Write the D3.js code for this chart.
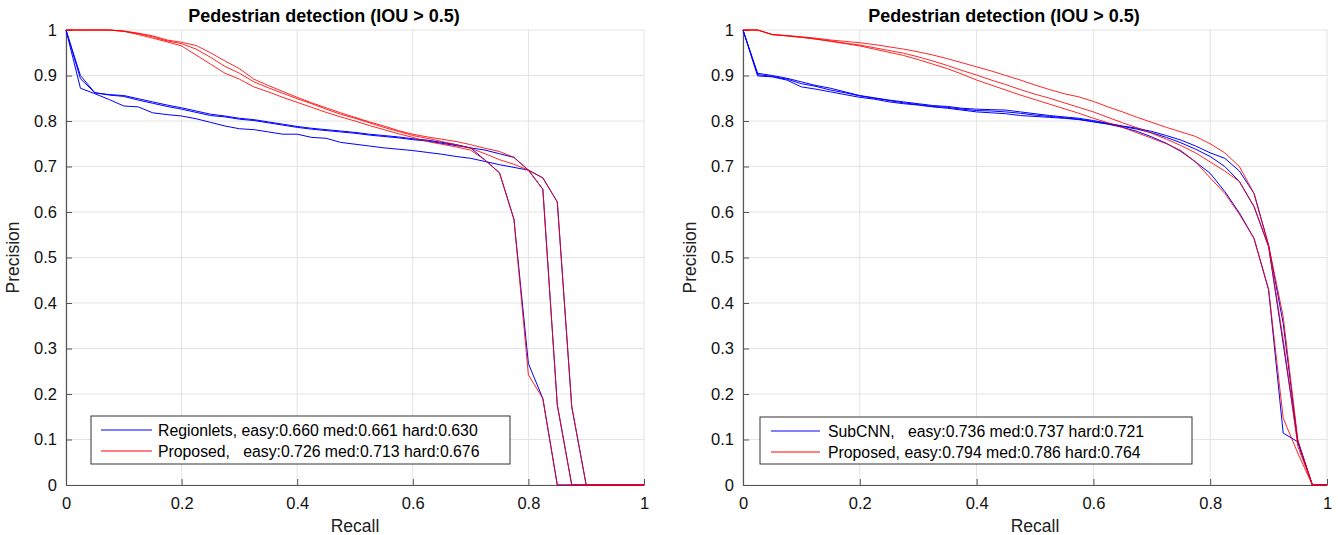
<!DOCTYPE html>
<html>
  <head>
    <meta charset="utf-8">
    <title>Pedestrian detection PR curves</title>
    <script type="text/javascript" src="https://d3js.org/d3.v7.min.js"></script>
    <style>
      body { margin: 0; background: #fff; }
      svg text { font-family: "Liberation Sans", Arial, sans-serif; }
    </style>
  </head>
  <body>
    <svg id="chart" width="1338" height="535"></svg>
    <script type="text/javascript">
      // KITTI style 41 point recall grid
      var recall = [0, 0.025, 0.05, 0.075, 0.1, 0.125, 0.15, 0.175, 0.2, 0.225,
        0.25, 0.275, 0.3, 0.325, 0.35, 0.375, 0.4, 0.425, 0.45, 0.475,
        0.5, 0.525, 0.55, 0.575, 0.6, 0.625, 0.65, 0.675, 0.7, 0.725,
        0.75, 0.775, 0.8, 0.825, 0.85, 0.875, 0.9, 0.925, 0.95, 0.975, 1];

      var xTicks = [0, 0.2, 0.4, 0.6, 0.8, 1];
      var yTicks = [0, 0.1, 0.2, 0.3, 0.4, 0.5, 0.6, 0.7, 0.8, 0.9, 1];

      // left panel: Regionlets vs Proposed
      var regionletsEasy = [1, 0.90, 0.862, 0.858, 0.856, 0.849, 0.842, 0.835, 0.829, 0.822,
        0.815, 0.811, 0.806, 0.803, 0.798, 0.793, 0.788, 0.784, 0.781, 0.778,
        0.775, 0.771, 0.768, 0.765, 0.761, 0.758, 0.753, 0.748, 0.741, 0.714,
        0.686, 0.584, 0.267, 0.19, 0, 0, 0, 0, 0, 0, 0];
      var regionletsMed = [1, 0.893, 0.862, 0.857, 0.854, 0.846, 0.839, 0.832, 0.826, 0.819,
        0.812, 0.809, 0.804, 0.801, 0.796, 0.791, 0.786, 0.782, 0.779, 0.776,
        0.773, 0.769, 0.766, 0.763, 0.759, 0.756, 0.751, 0.746, 0.741, 0.736,
        0.728, 0.72, 0.692, 0.65, 0.176, 0, 0, 0, 0, 0, 0];
      var regionletsHard = [1, 0.872, 0.86, 0.847, 0.833, 0.831, 0.818, 0.814, 0.811, 0.805,
        0.797, 0.789, 0.783, 0.781, 0.776, 0.771, 0.771, 0.764, 0.762, 0.753,
        0.749, 0.745, 0.741, 0.738, 0.735, 0.731, 0.727, 0.722, 0.718, 0.711,
        0.704, 0.698, 0.692, 0.675, 0.622, 0.172, 0, 0, 0, 0, 0];
      var proposedLeftEasy = [1, 1, 1, 1, 0.998, 0.993, 0.987, 0.978, 0.973, 0.966,
        0.95, 0.932, 0.915, 0.892, 0.878, 0.865, 0.852, 0.84, 0.829, 0.818,
        0.808, 0.798, 0.789, 0.779, 0.771, 0.765, 0.76, 0.755, 0.748, 0.74,
        0.733, 0.72, 0.692, 0.675, 0.622, 0.172, 0, 0, 0, 0, 0];
      var proposedLeftMed = [1, 1, 1, 1, 0.997, 0.992, 0.985, 0.976, 0.97, 0.958,
        0.94, 0.92, 0.905, 0.886, 0.873, 0.861, 0.849, 0.838, 0.826, 0.815,
        0.806, 0.796, 0.786, 0.777, 0.768, 0.762, 0.755, 0.748, 0.74, 0.728,
        0.715, 0.705, 0.692, 0.65, 0.176, 0, 0, 0, 0, 0, 0];
      var proposedLeftHard = [1, 1, 1, 1, 0.997, 0.99, 0.982, 0.974, 0.965, 0.945,
        0.925, 0.905, 0.892, 0.875, 0.864, 0.852, 0.841, 0.83, 0.819, 0.809,
        0.8, 0.79, 0.781, 0.772, 0.764, 0.755, 0.749, 0.743, 0.736, 0.714,
        0.686, 0.584, 0.242, 0.19, 0, 0, 0, 0, 0, 0, 0];

      // right panel: SubCNN vs Proposed
      var subcnnEasy = [1, 0.905, 0.9, 0.894, 0.886, 0.878, 0.872, 0.864, 0.856, 0.851,
        0.846, 0.842, 0.838, 0.834, 0.832, 0.828, 0.826, 0.825, 0.824, 0.82,
        0.816, 0.812, 0.809, 0.806, 0.801, 0.795, 0.789, 0.784, 0.777, 0.768,
        0.758, 0.745, 0.73, 0.718, 0.69, 0.641, 0.527, 0.355, 0.095, 0, 0];
      var subcnnMed = [1, 0.902, 0.898, 0.892, 0.882, 0.876, 0.868, 0.862, 0.855, 0.85,
        0.845, 0.84, 0.836, 0.832, 0.83, 0.826, 0.823, 0.822, 0.82, 0.817,
        0.813, 0.81, 0.807, 0.804, 0.799, 0.794, 0.788, 0.782, 0.774, 0.764,
        0.752, 0.738, 0.722, 0.7, 0.667, 0.612, 0.524, 0.31, 0.095, 0, 0];
      var subcnnHard = [1, 0.899, 0.897, 0.89, 0.875, 0.87, 0.864, 0.858, 0.852, 0.848,
        0.842, 0.838, 0.835, 0.831, 0.828, 0.824, 0.82, 0.818, 0.816, 0.812,
        0.81, 0.808, 0.806, 0.803, 0.798, 0.793, 0.786, 0.777, 0.765, 0.751,
        0.733, 0.71, 0.685, 0.645, 0.598, 0.542, 0.429, 0.114, 0.095, 0, 0];
      var proposedRightEasy = [1, 1, 0.99, 0.988, 0.985, 0.982, 0.978, 0.975, 0.972, 0.968,
        0.963, 0.958, 0.952, 0.945, 0.937, 0.928, 0.919, 0.91, 0.9, 0.89,
        0.879, 0.869, 0.86, 0.853, 0.843, 0.831, 0.82, 0.808, 0.797, 0.786,
        0.776, 0.766, 0.75, 0.73, 0.7, 0.641, 0.527, 0.37, 0.1, 0, 0];
      var proposedRightMed = [1, 1, 0.99, 0.987, 0.984, 0.98, 0.976, 0.971, 0.967, 0.961,
        0.955, 0.949, 0.941, 0.932, 0.922, 0.911, 0.901, 0.89, 0.88, 0.869,
        0.859, 0.85, 0.84, 0.83, 0.82, 0.808, 0.796, 0.785, 0.773, 0.76,
        0.746, 0.73, 0.71, 0.69, 0.667, 0.612, 0.524, 0.32, 0.085, 0, 0];
      var proposedRightHard = [1, 1, 0.99, 0.987, 0.984, 0.98, 0.975, 0.97, 0.965, 0.958,
        0.951, 0.944, 0.935, 0.925, 0.915, 0.903, 0.89, 0.879, 0.868, 0.857,
        0.847, 0.837, 0.827, 0.817, 0.806, 0.796, 0.786, 0.774, 0.762, 0.75,
        0.735, 0.71, 0.675, 0.641, 0.595, 0.542, 0.43, 0.147, 0.07, 0, 0];

      var panels = [
        {
          left: 66, right: 644, top: 30, bottom: 485,
          title: "Pedestrian detection (IOU > 0.5)",
          blue: [regionletsEasy, regionletsMed, regionletsHard],
          red: [proposedLeftEasy, proposedLeftMed, proposedLeftHard],
          legend: { x: 91, y: 416, w: 419, h: 48, lineX: 101, lineW: 51, textX: 158,
            labels: ["Regionlets, easy:0.660 med:0.661 hard:0.630",
                     "Proposed,   easy:0.726 med:0.713 hard:0.676"] }
        },
        {
          left: 743, right: 1327, top: 30, bottom: 485,
          title: "Pedestrian detection (IOU > 0.5)",
          blue: [subcnnEasy, subcnnMed, subcnnHard],
          red: [proposedRightEasy, proposedRightMed, proposedRightHard],
          legend: { x: 760, y: 417, w: 432, h: 47, lineX: 771, lineW: 49, textX: 828,
            labels: ["SubCNN,   easy:0.736 med:0.737 hard:0.721",
                     "Proposed, easy:0.794 med:0.786 hard:0.764"] }
        }
      ];

      var svg = d3.select("#chart");

      panels.forEach(function (p) {
        var x = d3.scaleLinear().domain([0, 1]).range([p.left, p.right]);
        var y = d3.scaleLinear().domain([0, 1]).range([p.bottom, p.top]);
        var g = svg.append("g");

        // grid
        g.append("g").selectAll("line").data(xTicks).enter().append("line")
          .attr("x1", function (d) { return x(d); }).attr("x2", function (d) { return x(d); })
          .attr("y1", p.top).attr("y2", p.bottom)
          .attr("stroke", "#e3e3e3").attr("stroke-width", 1);
        g.append("g").selectAll("line").data(yTicks).enter().append("line")
          .attr("y1", function (d) { return y(d); }).attr("y2", function (d) { return y(d); })
          .attr("x1", p.left).attr("x2", p.right)
          .attr("stroke", "#e3e3e3").attr("stroke-width", 1);

        // axes, ticks inside like matlab
        var xAxis = g.append("g").attr("transform", "translate(0," + p.bottom + ")")
          .call(d3.axisBottom(x).tickValues(xTicks).tickSizeInner(-6).tickSizeOuter(0)
            .tickFormat(function (d) { return d3.format("")(d); }));
        var yAxis = g.append("g").attr("transform", "translate(" + p.left + ",0)")
          .call(d3.axisLeft(y).tickValues(yTicks).tickSizeInner(-6).tickSizeOuter(0)
            .tickFormat(function (d) { return d3.format("")(d); }));
        [xAxis, yAxis].forEach(function (a) {
          a.select(".domain").attr("stroke", "#555").attr("stroke-width", 1.2);
          a.selectAll(".tick line").attr("stroke", "#555");
          a.selectAll(".tick text").attr("fill", "#111").style("font-size", "16.5px")
            .style("font-family", "Liberation Sans, Arial, sans-serif");
        });
        yAxis.selectAll(".tick text").attr("x", -9);
        xAxis.selectAll(".tick text").attr("y", 12);

        var line = d3.line()
          .x(function (d, i) { return x(recall[i]); })
          .y(function (d) { return y(d); });

        p.blue.forEach(function (s) {
          g.append("path").datum(s).attr("d", line)
            .attr("fill", "none").attr("stroke", "#0000ff").attr("stroke-width", 1);
        });
        p.red.forEach(function (s) {
          g.append("path").datum(s).attr("d", line)
            .attr("fill", "none").attr("stroke", "#ff0000").attr("stroke-width", 1)
            .attr("stroke-opacity", 0.85);
        });

        // titles and labels
        var cx = (p.left + p.right) / 2;
        g.append("text").attr("x", cx - 31).attr("y", 22).attr("text-anchor", "middle")
          .style("font-size", "18px").style("font-weight", "bold").attr("fill", "#000")
          .text(p.title);
        g.append("text").attr("x", cx).attr("y", 532).attr("text-anchor", "middle")
          .style("font-size", "17.5px").attr("fill", "#222").text("Recall");
        g.append("text")
          .attr("transform", "translate(" + (p.left - 47) + "," + ((p.top + p.bottom) / 2) + ") rotate(-90)")
          .attr("text-anchor", "middle").style("font-size", "17.5px").attr("fill", "#222")
          .text("Precision");

        // legend
        var L = p.legend;
        var lg = g.append("g");
        lg.append("rect").attr("x", L.x).attr("y", L.y).attr("width", L.w).attr("height", L.h)
          .attr("fill", "#fff").attr("stroke", "#333").attr("stroke-width", 1);
        ["#0000ff", "#ff0000"].forEach(function (c, i) {
          var ly = L.y + 14 + i * 21;
          lg.append("line").attr("x1", L.lineX).attr("x2", L.lineX + L.lineW)
            .attr("y1", ly).attr("y2", ly).attr("stroke", c).attr("stroke-width", 1);
          lg.append("text").attr("x", L.textX).attr("y", ly + 5.5)
            .attr("xml:space", "preserve").style("white-space", "pre")
            .style("font-size", "15.8px").attr("fill", "#000").text(L.labels[i]);
        });
      });
    </script>
  </body>
</html>
